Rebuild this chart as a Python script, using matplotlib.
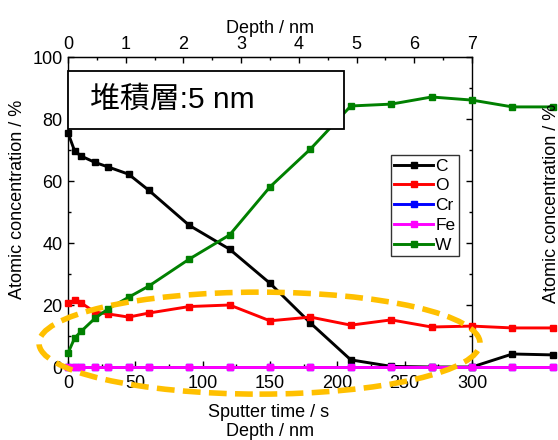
import matplotlib.pyplot as plt
import matplotlib.patches as patches
from matplotlib.ticker import MultipleLocator

plt.rcParams['font.family'] = ['Liberation Sans', 'Noto Sans CJK JP', 'DejaVu Sans']

# sputter depth profile data
sputter_time = [0, 5, 10, 20, 30, 45, 60, 90, 120, 150, 180, 210, 240, 270, 300, 330, 360]
conc_C = [75.5, 69.6, 68.0, 66.0, 64.5, 62.2, 57.0, 45.7, 38.0, 27.0, 14.2, 2.3, 0.2, 0, 0, 4.2, 3.9]
conc_O = [20.6, 21.6, 20.6, 17.7, 17.1, 16.1, 17.4, 19.5, 20.0, 14.9, 16.1, 13.5, 15.2, 12.9, 13.2, 12.6, 12.6]
conc_Cr = [0, 0, 0, 0, 0, 0, 0, 0, 0, 0, 0, 0, 0, 0, 0, 0, 0]
conc_Fe = [0, 0, 0, 0, 0, 0, 0, 0, 0, 0, 0, 0, 0, 0, 0, 0, 0]
conc_W = [4.5, 9.4, 11.6, 15.7, 18.8, 22.5, 26.1, 34.8, 42.6, 58.1, 70.3, 84.2, 84.8, 87.1, 86.1, 83.9, 83.9]

elements = ["C", "O", "Cr", "Fe", "W"]
series = [conc_C, conc_O, conc_Cr, conc_Fe, conc_W]
colors = ["#000000", "#FF0000", "#0000FF", "#FF00FF", "#008000"]

layer_text = "堆積層:5 nm"

W, H = 558, 440
fig = plt.figure(figsize=(W / 100, H / 100), dpi=100)
ax = fig.add_axes([68 / W, 1 - 367 / H, (472 - 68) / W, (367 - 57) / H])

for name, vals, c in zip(elements, series, colors):
    ax.plot(sputter_time, vals, color=c, lw=2.1, marker='s', ms=5,
            label=name, clip_on=False, zorder=3)

ax.set_xlim(0, 300)
ax.set_ylim(0, 100)
ax.xaxis.set_major_locator(MultipleLocator(50))
ax.xaxis.set_minor_locator(MultipleLocator(25))
ax.yaxis.set_major_locator(MultipleLocator(20))
ax.yaxis.set_minor_locator(MultipleLocator(10))
ax.tick_params(which='both', direction='in', labelsize=13, right=True, width=1)
ax.tick_params(which='major', length=4)
ax.tick_params(which='minor', length=2.2)
ax.tick_params(axis='x', pad=6)
ax.tick_params(axis='y', pad=4)
for sp in ax.spines.values():
    sp.set_linewidth(1)

# depth scale on top (300 s -> 7 nm)
top = ax.secondary_xaxis('top', functions=(lambda t: t * 7 / 300, lambda d: d * 300 / 7))
top.xaxis.set_major_locator(MultipleLocator(1))
top.xaxis.set_minor_locator(MultipleLocator(0.5))
top.tick_params(which='both', direction='in', labelsize=13, width=1, pad=3)
top.tick_params(which='major', length=4)
top.tick_params(which='minor', length=2.2)
top.set_xlabel("Depth / nm", fontsize=13, labelpad=2)

# axis titles
fig.text(18 / W, 1 - 199 / H, "Atomic concentration / %", rotation=90,
         ha='center', va='center', fontsize=13)
fig.text(552 / W, 1 - 203 / H, "Atomic concentration / %", rotation=90,
         ha='center', va='center', fontsize=13)
fig.text(269 / W, 1 - 412 / H, "Sputter time / s", ha='center', va='center', fontsize=13)
fig.text(270 / W, 1 - 431 / H, "Depth / nm", ha='center', va='center', fontsize=13)

# deposit layer box
box = patches.Rectangle((0, 76.8), 205, 18.7, facecolor='white', edgecolor='black',
                        lw=1.3, zorder=5, clip_on=False)
ax.add_patch(box)
ax.text(16.0, 86.3, layer_text, fontsize=21.5, ha='left', va='center', zorder=6)

leg = ax.legend(loc='upper left', bbox_to_anchor=(0.7995, 0.684), fontsize=12.5,
                frameon=True, fancybox=False, handlelength=2.2, handletextpad=0.15,
                labelspacing=0.27, borderpad=0.2, borderaxespad=0, numpoints=1)
leg.get_frame().set_edgecolor('black')
leg.get_frame().set_linewidth(1)
leg.set_zorder(7)

# highlighted region at the bottom
ring = patches.Ellipse((142.2, 7.7), 327.5, 32.9, fill=False, edgecolor='#FFC000',
                       lw=4, linestyle=(0, (3.2, 1.5)), clip_on=False, zorder=8)
ax.add_patch(ring)

fig.savefig("out.png", dpi=100)
